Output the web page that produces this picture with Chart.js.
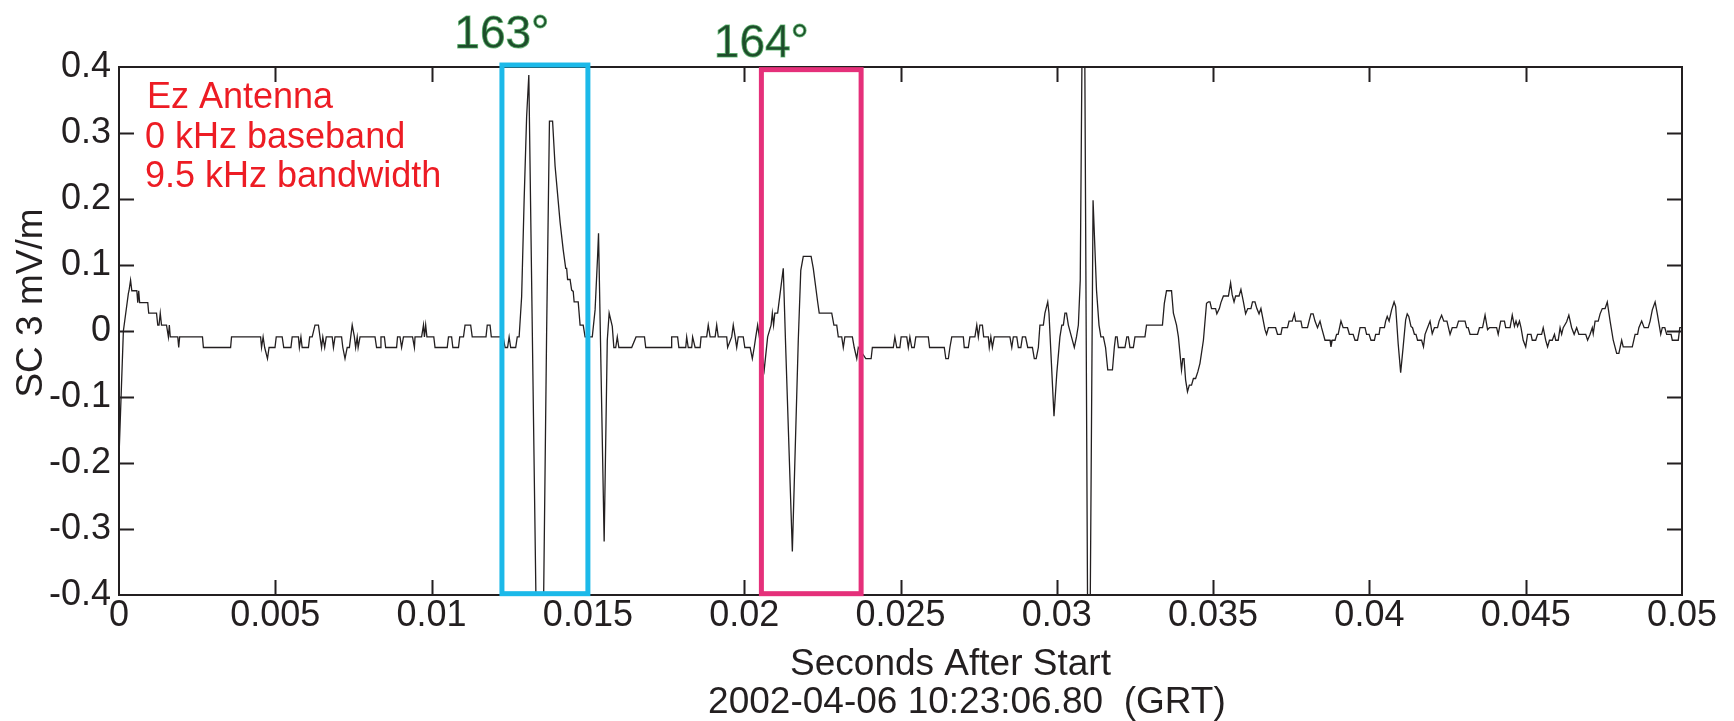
<!DOCTYPE html>
<html>
<head>
<meta charset="utf-8">
<title>SC 3 Ez waveform</title>
<script src="https://cdn.jsdelivr.net/npm/chart.js@4.4.1/dist/chart.umd.min.js"></script>
<style>
  html, body { margin: 0; padding: 0; background: #fff; }
  canvas { display: block; }
</style>
</head>
<body>
<canvas id="wave" width="1734" height="721"></canvas>
<script>
// ----- data -----
// time of each vertex, milliseconds after start
const timeMs = [
  0.00, 0.14, 0.30, 0.32, 0.37, 0.41, 0.57, 0.60, 0.63, 0.66,
  0.92, 0.95, 1.20, 1.24, 1.28, 1.32, 1.36, 1.52, 1.58, 1.61,
  1.64, 1.88, 1.91, 1.94, 2.67, 2.70, 3.57, 3.60, 4.53, 4.56,
  4.61, 4.66, 4.75, 4.80, 4.99, 5.03, 5.22, 5.27, 5.50, 5.54,
  5.74, 5.77, 5.82, 5.86, 6.06, 6.10, 6.18, 6.27, 6.38, 6.43,
  6.48, 6.52, 6.58, 6.63, 6.82, 6.86, 6.91, 7.12, 7.16, 7.23,
  7.30, 7.37, 7.46, 7.53, 7.57, 7.62, 7.65, 7.71, 8.19, 8.24,
  // first burst (163 deg)
  8.35, 8.38, 8.49, 8.53, 8.88, 8.91, 8.99, 9.04, 9.10, 9.39,
  9.45, 9.47, 9.68, 9.74, 9.77, 9.81, 9.85, 10.07, 10.11, 10.50,
  10.54, 10.64, 10.68, 10.86, 10.90, 11.02, 11.07, 11.25, 11.30, 11.74,
  11.78, 11.87, 11.91, 12.29, 12.35, 12.43, 12.48, 12.53, 12.69, 12.74,
  12.80, 12.88, 12.96, 13.04, 13.11, 13.40, 13.58, 13.68, 13.77, 13.87,
  13.95, 14.11, 14.21, 14.29, 14.32, 14.35, 14.43, 14.48, 14.53, 14.56,
  14.69, 14.75, 14.85, 14.91, 15.14, 15.23, 15.31, 15.34, 15.52, 15.62,
  15.68, 15.78, 15.83, 15.89, 15.94, 15.99, 16.40, 16.54, 16.81, 16.85,
  // second burst (164 deg)
  17.66, 17.68, 17.87, 17.91, 18.13, 18.16, 18.21, 18.32, 18.35, 18.43,
  18.59, 18.62, 18.80, 18.85, 18.91, 19.07, 19.12, 19.17, 19.44, 19.47,
  19.60, 19.65, 19.71, 19.76, 19.81, 19.97, 20.02, 20.19, 20.26, 20.32,
  20.37, 20.43, 20.64, 20.75, 20.86, 20.90, 20.94, 20.98, 21.07, 21.25,
  21.32, 21.54, 21.73, 21.81, 21.89, 22.14, 22.21, 22.35, 22.40, 22.80,
  22.87, 22.96, 23.01, 23.12, 23.17, 23.22, 23.46, 23.52, 23.60, 23.65,
  23.89, 24.06, 24.10, 24.77, 24.82, 24.88, 24.98, 25.02, 25.20, 25.25,
  // spike near 0.031 s
  25.30, 25.36, 25.44, 25.49, 25.89, 25.93, 26.40, 26.45, 26.53, 26.58,
  26.64, 27.01, 27.04, 27.17, 27.22, 27.38, 27.44, 27.49, 27.54, 27.62,
  27.66, 27.81, 27.84, 27.89, 27.94, 28.00, 28.50, 28.56, 28.61, 28.72,
  28.77, 28.85, 28.90, 29.00, 29.07, 29.22, 29.28, 29.34, 29.41, 29.46,
  29.57, 29.62, 29.71, 29.75, 29.91, 30.00, 30.10, 30.16, 30.21, 30.26,
  30.31, 30.37, 30.47, 30.56, 30.63, 30.69, 30.75, 30.86, 31.02, 31.16,
  31.27, 31.35, 31.41, 31.49, 31.56, 31.63, 31.78, 31.84, 31.88, 31.93,
  31.97, 32.18, 32.24, 32.29, 32.34, 32.45, 32.50, 32.82, 32.87, 33.38,
  // noisy tail
  33.44, 33.51, 33.67, 33.73, 33.83, 33.89, 33.99, 34.03, 34.07, 34.12,
  34.18, 34.24, 34.31, 34.37, 34.44, 34.51, 34.58, 34.69, 34.79, 34.85,
  34.90, 34.95, 35.08, 35.12, 35.20, 35.25, 35.33, 35.49, 35.56, 35.61,
  35.67, 35.72, 35.83, 35.89, 35.97, 36.04, 36.11, 36.21, 36.26, 36.34,
  36.40, 36.47, 36.53, 36.66, 36.71, 36.77, 37.00, 37.06, 37.17, 37.21,
  37.38, 37.43, 37.53, 37.60, 37.64, 37.81, 37.85, 38.02, 38.07, 38.13,
  38.20, 38.26, 38.34, 38.42, 38.47, 38.58, 38.74, 38.77, 38.81, 38.90,
  38.95, 39.00, 39.09, 39.16, 39.30, 39.36, 39.48, 39.54, 39.62, 39.70,
  39.86, 39.91, 39.99, 40.05, 40.16, 40.20, 40.31, 40.34, 40.48, 40.52,
  40.57, 40.63, 40.71, 40.79, 40.84, 40.92, 41.00, 41.08, 41.16, 41.21,
  41.26, 41.33, 41.38, 41.44, 41.49, 41.54,
  41.67, 41.73, 41.78, 41.86, 41.94, 42.01, 42.08, 42.18, 42.23, 42.31,
  42.38, 42.48, 42.58, 42.65, 42.79, 42.85, 43.06, 43.11, 43.16, 43.22,
  43.46, 43.52, 43.62, 43.70, 43.78, 43.84, 44.07, 44.12, 44.20, 44.32,
  44.36, 44.50, 44.57, 44.64, 44.69, 44.74, 44.80, 44.85, 44.92, 45.00,
  45.06, 45.17, 45.21, 45.32, 45.38, 45.51, 45.56, 45.64, 45.70, 45.76,
  45.85, 45.92, 45.96, 46.04, 46.10, 46.15, 46.20, 46.31, 46.38, 46.47,
  46.55, 46.63, 46.70, 46.92, 46.98, 47.06, 47.13, 47.16, 47.22, 47.32,
  47.38, 47.45, 47.54, 47.61, 47.70, 47.80, 47.91, 47.98, 48.07, 48.12,
  48.41, 48.50, 48.58, 48.62, 48.71, 48.79, 48.92, 48.98, 49.05, 49.14,
  49.21, 49.32, 49.37, 49.45, 49.51, 49.65, 49.69, 49.88, 49.93, 50.00,
]

// field at each vertex, mV/m (spikes past +-0.4 get clipped by the axes)
const fieldMvm = [
  -0.190, 0.000, 0.057, 0.061, 0.077, 0.061, 0.061, 0.043, 0.061, 0.043,
  0.043, 0.027, 0.027, 0.009, 0.009, 0.027, 0.009, 0.009, -0.009, 0.009,
  -0.009, -0.009, -0.025, -0.009, -0.009, -0.025, -0.025, -0.009, -0.009, -0.025,
  -0.009, -0.025, -0.042, -0.025, -0.025, -0.009, -0.009, -0.025, -0.025, -0.009,
  -0.009, -0.025, -0.009, -0.025, -0.025, -0.009, -0.009, 0.009, 0.009, -0.009,
  -0.025, -0.009, -0.025, -0.009, -0.009, -0.025, -0.009, -0.009, -0.025, -0.042,
  -0.025, -0.025, 0.009, -0.009, -0.025, -0.009, -0.025, -0.009, -0.009, -0.025,
  // first burst (163 deg)
  -0.025, -0.009, -0.009, -0.025, -0.025, -0.009, -0.009, -0.025, -0.009, -0.009,
  -0.025, -0.009, -0.009, 0.009, -0.009, 0.009, -0.009, -0.009, -0.025, -0.025,
  -0.009, -0.009, -0.025, -0.025, -0.009, -0.009, 0.009, 0.009, -0.009, -0.009,
  0.009, 0.009, -0.009, -0.009, -0.025, -0.025, -0.009, -0.025, -0.025, -0.009,
  -0.009, 0.052, 0.198, 0.325, 0.388, -0.620, -0.420, 0.000, 0.318, 0.318,
  0.250, 0.165, 0.123, 0.095, 0.095, 0.078, 0.078, 0.062, 0.060, 0.044,
  0.044, 0.009, 0.009, -0.009, -0.009, 0.032, 0.113, 0.148, -0.319, -0.014,
  0.027, 0.007, -0.025, -0.025, -0.009, -0.025, -0.025, -0.009, -0.009, -0.025,
  // second burst (164 deg)
  -0.025, -0.009, -0.009, -0.025, -0.025, -0.009, -0.025, -0.025, -0.009, -0.025,
  -0.025, -0.009, -0.009, 0.009, -0.009, -0.009, 0.009, -0.009, -0.009, -0.025,
  -0.009, 0.009, -0.009, -0.025, -0.009, -0.009, -0.025, -0.025, -0.042, -0.025,
  -0.009, 0.009, -0.059, -0.009, 0.009, 0.027, 0.009, 0.027, 0.027, 0.095,
  -0.014, -0.334, -0.014, 0.092, 0.113, 0.113, 0.095, 0.044, 0.027, 0.027,
  0.009, 0.009, -0.009, -0.009, -0.025, -0.009, -0.009, -0.025, -0.042, -0.025,
  -0.042, -0.042, -0.025, -0.025, -0.009, -0.025, -0.025, -0.009, -0.009, -0.025,
  // spike near 0.031 s
  -0.009, -0.025, -0.025, -0.009, -0.009, -0.025, -0.025, -0.042, -0.042, -0.025,
  -0.009, -0.009, -0.025, -0.025, -0.009, -0.009, 0.009, -0.009, 0.009, 0.009,
  -0.009, -0.009, -0.025, -0.009, -0.025, -0.009, -0.009, -0.025, -0.009, -0.009,
  -0.025, -0.025, -0.009, -0.009, -0.025, -0.025, -0.042, -0.042, -0.025, 0.009,
  0.009, 0.027, 0.044, 0.027, -0.129, -0.064, -0.009, 0.009, 0.009, 0.027,
  0.027, 0.009, -0.009, -0.025, -0.009, 0.009, 0.077, 0.750, -0.750, 0.198,
  0.062, 0.009, -0.009, -0.009, -0.025, -0.059, -0.059, -0.025, -0.009, -0.009,
  -0.025, -0.025, -0.009, -0.009, -0.025, -0.025, -0.009, -0.009, 0.009, 0.009,
  // noisy tail
  0.042, 0.061, 0.061, 0.027, 0.009, -0.009, -0.059, -0.042, -0.042, -0.074,
  -0.092, -0.082, -0.082, -0.072, -0.072, -0.062, -0.049, -0.014, 0.042, 0.044,
  0.044, 0.034, 0.034, 0.026, 0.034, 0.043, 0.053, 0.053, 0.073, 0.055,
  0.044, 0.053, 0.053, 0.063, 0.044, 0.026, 0.034, 0.034, 0.044, 0.044,
  0.034, 0.026, 0.034, 0.002, -0.005, 0.005, 0.005, -0.005, -0.005, 0.005,
  0.005, 0.015, 0.015, 0.026, 0.015, 0.015, 0.005, 0.005, 0.015, 0.026,
  0.026, 0.015, 0.005, 0.015, 0.005, -0.014, -0.014, -0.024, -0.014, -0.014,
  -0.005, -0.005, 0.015, 0.005, 0.005, -0.005, -0.005, -0.014, -0.014, 0.005,
  0.005, -0.005, -0.005, -0.014, -0.014, -0.005, -0.005, 0.005, 0.005, 0.015,
  0.022, 0.015, 0.032, 0.044, 0.037, -0.019, -0.063, -0.024, 0.017, 0.026,
  0.022, 0.007, 0.005, -0.005, -0.005, -0.014,
  -0.014, -0.024, -0.005, 0.005, 0.015, -0.004, 0.005, 0.005, 0.015, 0.024,
  0.015, 0.015, -0.005, 0.005, 0.005, 0.015, 0.015, 0.005, 0.005, -0.005,
  -0.005, 0.005, 0.005, 0.024, 0.002, 0.005, 0.005, -0.005, 0.015, 0.015,
  0.005, 0.005, 0.024, 0.007, 0.015, 0.007, 0.015, 0.005, -0.014, -0.024,
  -0.005, -0.005, -0.014, -0.014, -0.005, -0.005, 0.005, -0.014, -0.024, -0.014,
  -0.014, -0.005, -0.014, -0.014, 0.005, -0.005, 0.005, 0.014, 0.024, 0.005,
  -0.005, 0.005, -0.005, -0.005, -0.014, -0.005, 0.005, -0.004, 0.015, 0.015,
  0.026, 0.034, 0.034, 0.044, 0.015, -0.014, -0.034, -0.034, -0.014, -0.024,
  -0.024, -0.005, -0.005, 0.005, 0.015, 0.005, 0.005, 0.015, 0.032, 0.044,
  0.026, -0.005, 0.005, 0.005, -0.005, -0.005, -0.014, -0.014, 0.005, 0.005,
]

const xTickValues = [0, 0.005, 0.01, 0.015, 0.02, 0.025, 0.03, 0.035, 0.04, 0.045, 0.05]
const xTickLabels = ['0', '0.005', '0.01', '0.015', '0.02', '0.025', '0.03', '0.035', '0.04', '0.045', '0.05']
const yTickValues = [-0.4, -0.3, -0.2, -0.1, 0, 0.1, 0.2, 0.3, 0.4]
const yTickLabels = ['-0.4', '-0.3', '-0.2', '-0.1', '0', '0.1', '0.2', '0.3', '0.4']

// highlighted intervals (seconds / mV/m) and their angle labels
const boxStart = [0.01225, 0.02055]
const boxEnd = [0.0150, 0.02374]
const boxTop = [0.403, 0.396]
const boxBottom = [-0.398, -0.398]
const boxLabels = ['163°', '164°']
const boxLabelLevel = [0.429, 0.415]

const noteLines = ['Ez Antenna', '0 kHz baseband', '9.5 kHz bandwidth']

// ----- styles -----
const INK = '#231f20'
const FONT = '"Liberation Sans", Arial, Helvetica, sans-serif'
const BOX_COLORS = ['#1cb9e9', '#e5307a']
const GREEN = '#1e4d2b'
const RED = '#ed1c24'
const TICK_LEN = 15

if (timeMs.length !== fieldMvm.length) console.warn('length mismatch', timeMs.length, fieldMvm.length)

const points = timeMs.map((t, i) => ({ x: t / 1000, y: fieldMvm[i] }))

// frame + inward ticks on all four sides
const framePlugin = {
  id: 'frame',
  afterDatasetsDraw(chart) {
    const { ctx, chartArea: a, scales } = chart
    const xs = scales.x, ys = scales.y
    ctx.save()
    ctx.strokeStyle = INK
    ctx.lineWidth = 2
    ctx.beginPath()
    xTickValues.slice(1, -1).forEach(v => {
      const px = Math.round(xs.getPixelForValue(v)) + 0.5
      ctx.moveTo(px, a.bottom); ctx.lineTo(px, a.bottom - TICK_LEN)
      ctx.moveTo(px, a.top); ctx.lineTo(px, a.top + TICK_LEN)
    })
    yTickValues.slice(1, -1).forEach(v => {
      const py = Math.round(ys.getPixelForValue(v)) + 0.5
      ctx.moveTo(a.left, py); ctx.lineTo(a.left + TICK_LEN, py)
      ctx.moveTo(a.right, py); ctx.lineTo(a.right - TICK_LEN, py)
    })
    ctx.stroke()
    ctx.strokeRect(a.left, a.top, a.right - a.left, a.bottom - a.top)

    // highlight boxes
    ctx.lineWidth = 5
    boxStart.forEach((t0, i) => {
      const x0 = xs.getPixelForValue(t0), x1 = xs.getPixelForValue(boxEnd[i])
      const y0 = ys.getPixelForValue(boxTop[i]), y1 = ys.getPixelForValue(boxBottom[i])
      ctx.strokeStyle = BOX_COLORS[i]
      ctx.strokeRect(x0, y0, x1 - x0, y1 - y0)
    })
    ctx.restore()
  },
  afterDraw(chart) {
    const { ctx, chartArea: a, scales } = chart
    const w = a.right - a.left
    ctx.save()

    // angle labels over the boxes
    ctx.font = '46px ' + FONT
    ctx.textAlign = 'center'
    ctx.textBaseline = 'alphabetic'
    ctx.fillStyle = GREEN
    ctx.strokeStyle = 'rgba(70,170,90,0.7)'
    ctx.lineWidth = 1
    boxLabels.forEach((txt, i) => {
      const x = scales.x.getPixelForValue(boxStart[i])
      const y = scales.y.getPixelForValue(boxLabelLevel[i])
      ctx.fillText(txt, x, y)
      ctx.strokeText(txt, x, y)
    })

    // instrument note
    ctx.font = '36px ' + FONT
    ctx.textAlign = 'left'
    ctx.fillStyle = RED
    noteLines.forEach((txt, i) => {
      ctx.fillText(txt, a.left + (i === 0 ? 28 : 26), a.top + 41 + i * 39.5)
    })

    // axis titles
    ctx.fillStyle = INK
    ctx.font = '37px ' + FONT
    ctx.textAlign = 'center'
    ctx.fillText('Seconds After Start', a.left + 0.532 * w, a.bottom + 80)
    ctx.fillText('2002-04-06 10:23:06.80  (GRT)', a.left + 0.5425 * w, a.bottom + 118)

    ctx.translate(a.left - 77, (a.top + a.bottom) / 2 - 28)
    ctx.rotate(-Math.PI / 2)
    ctx.fillText('SC 3 mV/m', 0, 0)
    ctx.restore()
  }
}

const tickFont = { family: FONT, size: 36, lineHeight: 1.1 }

new Chart(document.getElementById('wave'), {
  type: 'line',
  data: {
    datasets: [{
      data: points,
      borderColor: INK,
      borderWidth: 1.3,
      pointRadius: 0,
      tension: 0,
      fill: false,
    }],
  },
  options: {
    responsive: false,
    animation: false,
    events: [],
    layout: { padding: { left: 0, top: 67, right: 52, bottom: 0 } },
    plugins: {
      legend: { display: false },
      tooltip: { enabled: false },
    },
    scales: {
      x: {
        type: 'linear',
        min: 0,
        max: 0.05,
        afterBuildTicks: s => { s.ticks = xTickValues.map(v => ({ value: v })) },
        afterFit: s => { s.height = 126 },
        grid: { display: false, drawTicks: false },
        border: { display: false },
        ticks: {
          autoSkip: false,
          maxRotation: 0,
          padding: 1,
          color: INK,
          font: tickFont,
          callback: (v, i) => xTickLabels[i],
        },
      },
      y: {
        type: 'linear',
        min: -0.4,
        max: 0.4,
        afterBuildTicks: s => { s.ticks = yTickValues.map(v => ({ value: v })) },
        afterFit: s => { s.width = 119 },
        grid: { display: false, drawTicks: false },
        border: { display: false },
        ticks: {
          autoSkip: false,
          padding: 8,
          color: INK,
          font: tickFont,
          callback: (v, i) => yTickLabels[i],
        },
      },
    },
  },
  plugins: [framePlugin],
})
</script>
</body>
</html>
